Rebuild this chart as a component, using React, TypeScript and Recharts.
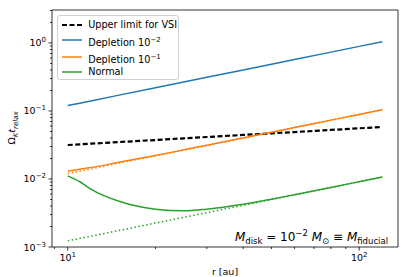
import { LineChart, Line, XAxis, YAxis, ReferenceArea } from 'recharts'

// radii in au
const radii = [10, 11, 12, 15, 20, 25, 30, 40, 50, 60, 80, 100, 120]
const vsiLimit = [0.0316, 0.0323, 0.033, 0.0349, 0.0374, 0.0396, 0.0414, 0.0444, 0.0469, 0.049, 0.0526, 0.0556, 0.0581]
const depletion2 = [0.12, 0.13, 0.14, 0.171, 0.219, 0.266, 0.312, 0.401, 0.487, 0.571, 0.733, 0.89, 1.04]
const depletion1 = [0.0131, 0.0139, 0.0147, 0.0176, 0.0222, 0.0268, 0.0313, 0.0401, 0.0487, 0.0571, 0.0733, 0.089, 0.104]
const depletion1Base = [0.012, 0.013, 0.014, 0.0171, 0.0219, 0.0266, 0.0312, 0.0401, 0.0487, 0.0571, 0.0733, 0.089, 0.104]
const normal = [0.0111, 0.0091, 0.0071, 0.0047, 0.0036, 0.0034, 0.0036, 0.00425, 0.00505, 0.00588, 0.00751, 0.00912, 0.0107]
const normalBase = [0.00123, 0.00134, 0.00144, 0.00175, 0.00225, 0.00273, 0.0032, 0.00411, 0.00499, 0.00585, 0.00751, 0.00912, 0.0107]

const xTicks = [9, 10, 20, 30, 40, 50, 60, 70, 80, 90, 100]
const yDecades = [0.001, 0.01, 0.1, 1]
const yMinor = [1, 2, 3, 4, 5, 6, 7, 8, 9]
const xDomain = [8.83, 135.9]
const yDomain = [0.001, 3.05]

const data = radii.map((r, i) => ({
  r,
  vsi: vsiLimit[i],
  dep2: depletion2[i],
  dep1: depletion1[i],
  dep1Base: depletion1Base[i],
  normal: normal[i],
  normalBase: normalBase[i],
}))

const yTicks = yDecades
  .flatMap((d) => yMinor.map((m) => +(d * m).toPrecision(3)))
  .filter((v) => v <= yDomain[1])

const font = '"DejaVu Sans", sans-serif'
const isMajor = (v: number) => {
  const lg = Math.log10(v)
  return Math.abs(lg - Math.round(lg)) < 1e-6
}
const expLabel = (v: number) => {
  const e = Math.round(Math.log10(v))
  return e < 0 ? `\u2212${-e}` : `${e}`
}

const XTick = (props: any) => {
  const { x, y, payload } = props
  const major = isMajor(payload.value)
  const len = major ? 3.5 : 2
  return (
    <g>
      <line x1={x} x2={x} y1={y} y2={y + len} stroke="#000" strokeWidth={0.8} />
      {major && (
        <text x={x} y={y + 14} textAnchor="middle" fontSize={9.5} fontFamily={font} fill="#000">
          10<tspan dy={-4} fontSize={7}>{expLabel(payload.value)}</tspan>
        </text>
      )}
    </g>
  )
}

const YTick = (props: any) => {
  const { x, y, payload } = props
  const major = isMajor(payload.value)
  const len = major ? 3.5 : 2
  return (
    <g>
      <line x1={x - len} x2={x} y1={y} y2={y} stroke="#000" strokeWidth={0.8} />
      {major && (
        <text x={x - 6} y={y + 3.5} textAnchor="end" fontSize={9.5} fontFamily={font} fill="#000">
          10<tspan dy={-4} fontSize={7}>{expLabel(payload.value)}</tspan>
        </text>
      )}
    </g>
  )
}

const legendRows = [
  { label: <>Upper limit for VSI</>, color: '#000', dash: '5 2.5', width: 2.2, cy: 9 },
  { label: <>Depletion 10<sup style={{ fontSize: 7 }}>−2</sup></>, color: '#1f77b4', dash: undefined, width: 1.5, cy: 24 },
  { label: <>Depletion 10<sup style={{ fontSize: 7 }}>−1</sup></>, color: '#ff7f0e', dash: undefined, width: 1.5, cy: 41 },
  { label: <>Normal</>, color: '#2ca02c', dash: undefined, width: 1.5, cy: 55.7 },
]

export default function App() {
  return (
    <div style={{ position: 'absolute', left: 0, top: 0, width: 415, height: 277, background: '#fff', fontFamily: font }}>
      <LineChart width={415} height={277} data={data} margin={{ top: 10, right: 17, left: 0, bottom: 0 }}>
        <XAxis
          dataKey="r"
          type="number"
          scale="log"
          domain={xDomain}
          allowDataOverflow
          ticks={xTicks}
          interval={0}
          tick={<XTick />}
          tickLine={false}
          axisLine={false}
          tickSize={0}
          tickMargin={0}
          height={30}
        />
        <YAxis
          type="number"
          scale="log"
          domain={yDomain}
          allowDataOverflow
          ticks={yTicks}
          interval={0}
          tick={<YTick />}
          tickLine={false}
          axisLine={false}
          tickSize={0}
          tickMargin={0}
          width={52}
        />
        <Line dataKey="vsi" stroke="#000" strokeWidth={2.2} strokeDasharray="5 2.5" dot={false} type="linear" isAnimationActive={false} />
        <Line dataKey="dep2" stroke="#1f77b4" strokeWidth={1.5} dot={false} type="linear" isAnimationActive={false} />
        <Line dataKey="dep1Base" stroke="#ff7f0e" strokeWidth={1.5} strokeDasharray="1.5 2.5" dot={false} type="linear" isAnimationActive={false} />
        <Line dataKey="dep1" stroke="#ff7f0e" strokeWidth={1.5} dot={false} type="monotone" isAnimationActive={false} />
        <Line dataKey="normalBase" stroke="#2ca02c" strokeWidth={1.5} strokeDasharray="1.5 2.5" dot={false} type="linear" isAnimationActive={false} />
        <Line dataKey="normal" stroke="#2ca02c" strokeWidth={1.5} dot={false} type="monotone" isAnimationActive={false} />
        <ReferenceArea x1={xDomain[0]} x2={xDomain[1]} y1={yDomain[0]} y2={yDomain[1]} fill="none" stroke="#000" strokeWidth={0.8} ifOverflow="visible" />
      </LineChart>

      <div
        style={{
          position: 'absolute', left: 56.7, top: 15, width: 122.6, height: 65, boxSizing: 'border-box',
          border: '1px solid #d0d0d0', borderRadius: 3, background: 'rgba(255,255,255,0.85)', fontSize: 9.7,
        }}
      >
        {legendRows.map((row, i) => (
          <div key={i} style={{ position: 'absolute', left: 0, top: row.cy - 7, height: 14, width: '100%', whiteSpace: 'nowrap' }}>
            <svg width={22} height={14} style={{ position: 'absolute', left: 3, top: 0 }}>
              <line x1={1} x2={21} y1={7} y2={7} stroke={row.color} strokeWidth={row.width} strokeDasharray={row.dash} />
            </svg>
            <span style={{ position: 'absolute', left: 30.5, top: 0, lineHeight: '14px' }}>{row.label}</span>
          </div>
        ))}
      </div>

      <div style={{ position: 'absolute', right: 27, top: 225, fontSize: 12, whiteSpace: 'nowrap', lineHeight: '16px' }}>
        <i>M</i><sub style={{ fontSize: 8.5 }}>disk</sub> = 10<sup style={{ fontSize: 8.5 }}>−2</sup>{' '}
        <i>M</i><sub style={{ fontSize: 8.5 }}>⊙</sub> ≡ <i>M</i><sub style={{ fontSize: 8.5 }}>fiducial</sub>
      </div>

      <div
        style={{
          position: 'absolute', left: 13, top: 128, transform: 'translate(-50%, -50%) rotate(-90deg)',
          fontSize: 9.5, whiteSpace: 'nowrap',
        }}
      >
        Ω<sub style={{ fontSize: 7 }}><i>K</i></sub><i>t</i><sub style={{ fontSize: 7 }}><i>relax</i></sub>
      </div>

      <div style={{ position: 'absolute', left: 225, top: 271, transform: 'translate(-50%, -50%)', fontSize: 9.5, whiteSpace: 'nowrap' }}>
        r [au]
      </div>
    </div>
  )
}
